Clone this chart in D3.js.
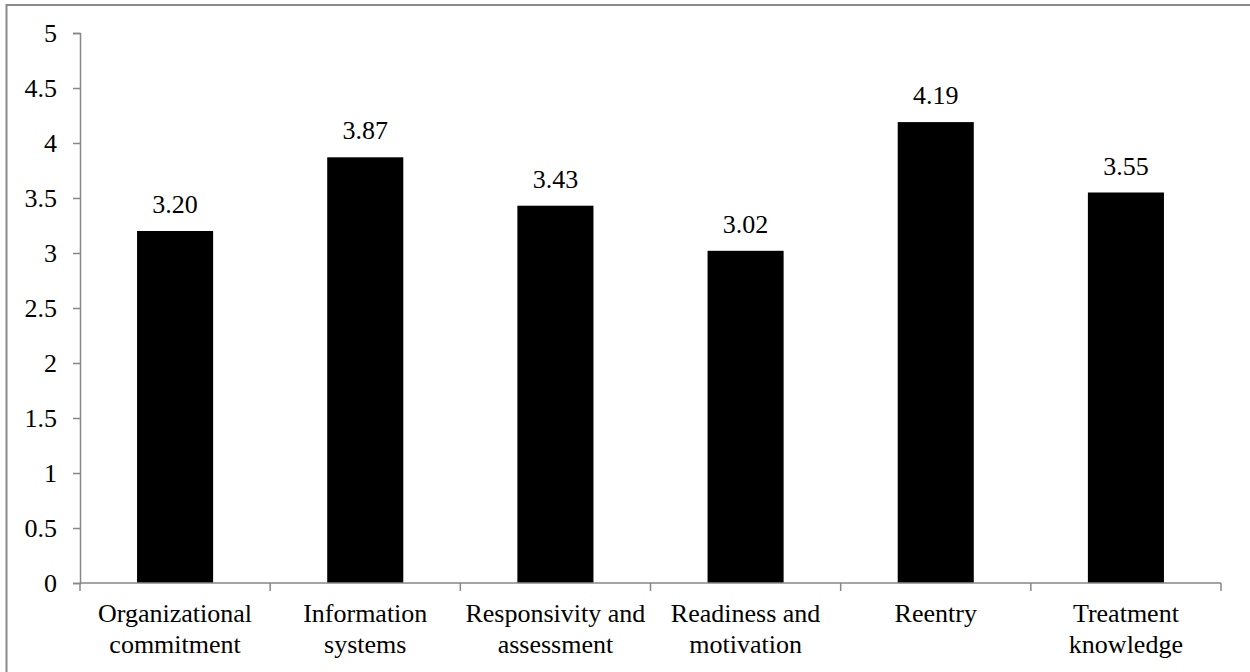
<!DOCTYPE html>
<html>
<head>
<meta charset="utf-8">
<script src="https://cdn.jsdelivr.net/npm/d3@7"></script>
<style>
  body { margin: 0; background: #fff; }
  svg { display: block; }
</style>
</head>
<body>
<svg id="chart" width="1250" height="672"></svg>
<script>
// data
const categories = [
    ["Organizational", "commitment"],
    ["Information", "systems"],
    ["Responsivity and", "assessment"],
    ["Readiness and", "motivation"],
    ["Reentry"],
    ["Treatment", "knowledge"]
];
const values = [3.20, 3.87, 3.43, 3.02, 4.19, 3.55];
const yTicks = [0, 0.5, 1, 1.5, 2, 2.5, 3, 3.5, 4, 4.5, 5];

const fontFamily = "'Liberation Serif', 'DejaVu Serif', serif";
const svg = d3.select("#chart");
const margin = { left: 80, right: 1221, top: 33, bottom: 583 };
const axisColor = "#878787";

// outer frame (right and bottom edges fall outside the picture)
svg.append("rect")
    .attr("x", 6.5).attr("y", 5)
    .attr("width", 1400).attr("height", 800)
    .attr("fill", "none")
    .attr("stroke", "#8a8a8a")
    .attr("stroke-width", 2);

const x = d3.scaleBand()
    .domain(d3.range(categories.length))
    .range([margin.left, margin.right])
    .paddingInner(0.6)
    .paddingOuter(0.3);

const y = d3.scaleLinear()
    .domain([0, 5])
    .range([margin.bottom, margin.top]);

// y axis
const yAxis = svg.append("g")
    .attr("transform", `translate(${margin.left},0)`)
    .call(d3.axisLeft(y).tickValues(yTicks).tickSize(7).tickPadding(16).tickFormat(d => String(d)));
yAxis.attr("font-family", fontFamily).attr("font-size", 26);
yAxis.selectAll("path, line").attr("stroke", axisColor).attr("stroke-width", 1.5);
yAxis.selectAll("text").attr("fill", "#000");

// bars
svg.selectAll(".bar")
    .data(values)
    .enter()
    .append("rect")
    .attr("class", "bar")
    .attr("x", (d, i) => x(i))
    .attr("y", d => y(d))
    .attr("width", x.bandwidth())
    .attr("height", d => y(0) - y(d))
    .attr("fill", "#000");

// value labels
svg.selectAll(".value-label")
    .data(values)
    .enter()
    .append("text")
    .attr("class", "value-label")
    .attr("x", (d, i) => x(i) + x.bandwidth() / 2)
    .attr("y", d => y(d) - 18)
    .attr("text-anchor", "middle")
    .attr("font-family", fontFamily)
    .attr("font-size", 26)
    .text(d => d.toFixed(2));

// x axis line and category separators
const step = x.step();
const x0 = margin.left;
svg.append("line")
    .attr("x1", x0).attr("x2", x0 + step * categories.length)
    .attr("y1", y(0)).attr("y2", y(0))
    .attr("stroke", axisColor).attr("stroke-width", 1.5);

svg.selectAll(".sep")
    .data(d3.range(categories.length + 1))
    .enter()
    .append("line")
    .attr("class", "sep")
    .attr("x1", i => x0 + i * step).attr("x2", i => x0 + i * step)
    .attr("y1", y(0)).attr("y2", y(0) + 8)
    .attr("stroke", axisColor).attr("stroke-width", 1.5);

// category labels
const catLabels = svg.selectAll(".cat-label")
    .data(categories)
    .enter()
    .append("text")
    .attr("class", "cat-label")
    .attr("text-anchor", "middle")
    .attr("x", (d, i) => x(i) + x.bandwidth() / 2)
    .attr("y", 622)
    .attr("font-family", fontFamily)
    .attr("font-size", 26);

catLabels.selectAll("tspan")
    .data(d => d)
    .enter()
    .append("tspan")
    .attr("x", function() { return d3.select(this.parentNode).attr("x"); })
    .attr("dy", (d, j) => j === 0 ? 0 : 31)
    .text(d => d);
</script>
</body>
</html>
